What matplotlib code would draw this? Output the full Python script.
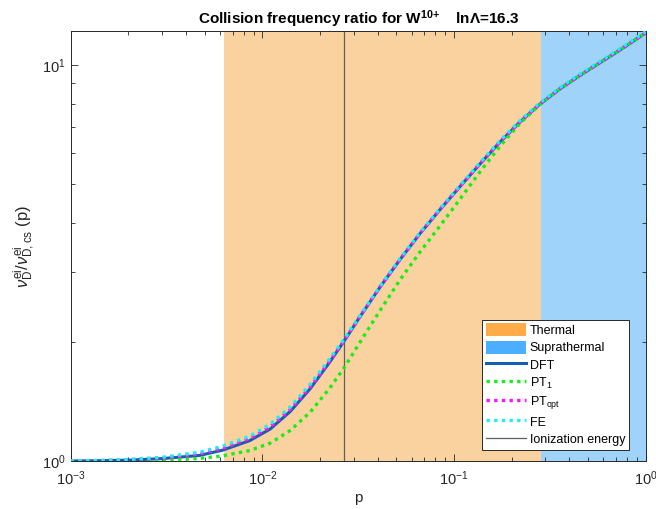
import matplotlib
matplotlib.use("Agg")
import matplotlib.pyplot as plt
from matplotlib.patches import Patch
from matplotlib.lines import Line2D
from matplotlib.ticker import LogLocator, NullFormatter

plt.rcParams['font.family'] = ['Liberation Sans', 'DejaVu Sans']
plt.rcParams['mathtext.fontset'] = 'custom'
plt.rcParams['mathtext.rm'] = 'Liberation Sans'
plt.rcParams['mathtext.it'] = 'Liberation Sans:italic'
plt.rcParams['mathtext.bf'] = 'Liberation Sans:bold'

# Normalised momentum grid
p = [1e-3, 1.5e-3, 2e-3, 3e-3, 4.7e-3, 6.2e-3, 8.6e-3, 0.011, 0.014, 0.0178,
     0.0225, 0.0267, 0.0324, 0.0411, 0.0523, 0.0666, 0.0846, 0.108, 0.137,
     0.174, 0.221, 0.281, 0.358, 0.455, 0.58, 0.737, 1.0]

# Deflection frequency ratio for each model
dft = [1.0, 1.002, 1.005, 1.014, 1.033, 1.065, 1.126, 1.205, 1.335, 1.525,
       1.78, 2.01, 2.32, 2.75, 3.23, 3.76, 4.32, 4.95, 5.64,
       6.40, 7.19, 7.98, 8.72, 9.43, 10.16, 10.94, 12.07]
pt1 = [1.0, 1.0005, 1.001, 1.004, 1.015, 1.03, 1.063, 1.11, 1.195, 1.33,
       1.53, 1.72, 2.00, 2.40, 2.87, 3.38, 3.93, 4.605, 5.39,
       6.25, 7.13, 7.96, 8.72, 9.43, 10.16, 10.94, 12.07]
pt_opt = [1.0, 1.003, 1.007, 1.017, 1.042, 1.076, 1.14, 1.22, 1.35, 1.54,
          1.79, 2.015, 2.325, 2.755, 3.235, 3.765, 4.33, 4.96, 5.65,
          6.41, 7.20, 7.99, 8.73, 9.44, 10.17, 10.95, 12.08]
fe = [1.0, 1.004, 1.009, 1.022, 1.052, 1.09, 1.155, 1.24, 1.37, 1.565,
      1.815, 2.03, 2.335, 2.765, 3.25, 3.78, 4.345, 4.98, 5.68,
      6.45, 7.24, 8.04, 8.78, 9.50, 10.24, 11.02, 12.15]

# Energy regions and ionization energy (in p)
thermal_range = [6.3e-3, 0.283]
suprathermal_range = [0.283, 1.0]
p_ionization = 0.0267

x_limits = [1e-3, 1.0]
y_limits = [1.0, 12.18]

fig = plt.figure(figsize=(6.56, 5.09), dpi=100)
ax = fig.add_axes([0.1078, 0.0943, 0.8765, 0.8442])

ax.set_xscale('log')
ax.set_yscale('log')

ax.axvspan(*thermal_range, color='#F9D29F', lw=0, zorder=0)
ax.axvspan(*suprathermal_range, color='#A0D3FA', lw=0, zorder=0)
ax.axvline(p_ionization, color='#5f5f5f', lw=0.9, zorder=1)

ax.plot(p, dft, color='#1560AE', lw=2.2, solid_capstyle='butt', zorder=3)
ax.plot(p, pt1, color='#14F014', lw=2.4, dashes=(1, 1.3), zorder=4)
ax.plot(p, pt_opt, color='#FF10FF', lw=2.4, dashes=(1, 1.3), zorder=5)
ax.plot(p, fe, color='#18F0F8', lw=2.4, dashes=(1, 1.3), zorder=6)

ax.set_xlim(x_limits)
ax.set_ylim(y_limits)

ax.xaxis.set_major_locator(LogLocator(base=10, numticks=10))
ax.xaxis.set_minor_locator(LogLocator(base=10, subs=range(2, 10), numticks=20))
ax.yaxis.set_major_locator(LogLocator(base=10, numticks=10))
ax.yaxis.set_minor_locator(LogLocator(base=10, subs=range(2, 10), numticks=20))
ax.xaxis.set_minor_formatter(NullFormatter())
ax.yaxis.set_minor_formatter(NullFormatter())

ax.tick_params(which='both', direction='in', top=True, right=True,
               color='#262626', labelcolor='#262626', labelsize=10.5)
ax.tick_params(which='major', length=5, width=0.6)
ax.tick_params(which='minor', length=3, width=0.6)
ax.tick_params(axis='x', pad=6)
for s in ax.spines.values():
    s.set_color('#262626')
    s.set_linewidth(0.7)

ax.set_title(r'Collision frequency ratio for W$^{\mathbf{10{+}}}$    lnΛ=16.3',
             fontsize=11, fontweight='bold', pad=5)
ax.set_xlabel('p', fontsize=11, color='#262626', labelpad=2)
ax.set_ylabel(r'$\nu^{\mathrm{ei}}_{\mathrm{D}}/\nu^{\mathrm{ei}}_{\mathrm{D,cs}}$ (p)',
              fontsize=12, color='#262626', labelpad=4)

handles = [
    Patch(facecolor='#FFAB48', edgecolor='none', label='Thermal'),
    Patch(facecolor='#4CAEFF', edgecolor='none', label='Suprathermal'),
    Line2D([], [], color='#1560AE', lw=2.2, label='DFT'),
    Line2D([], [], color='#14F014', lw=2.4, dashes=(1, 1.3), label=r'PT$_1$'),
    Line2D([], [], color='#FF10FF', lw=2.4, dashes=(1, 1.3), label=r'PT$_{\mathrm{opt}}$'),
    Line2D([], [], color='#18F0F8', lw=2.4, dashes=(1, 1.3), label='FE'),
    Line2D([], [], color='#5f5f5f', lw=0.9, label='Ionization energy'),
]
leg = ax.legend(handles=handles, loc='lower right', bbox_to_anchor=(0.971, 0.026),
                borderaxespad=0, fontsize=9, handlelength=3.2, handleheight=1.2,
                handletextpad=0.3, labelspacing=0.3, borderpad=0.3,
                fancybox=False, framealpha=1, edgecolor='#262626')
leg.get_frame().set_linewidth(0.7)

fig.savefig('out.png', dpi=100, facecolor='white')
